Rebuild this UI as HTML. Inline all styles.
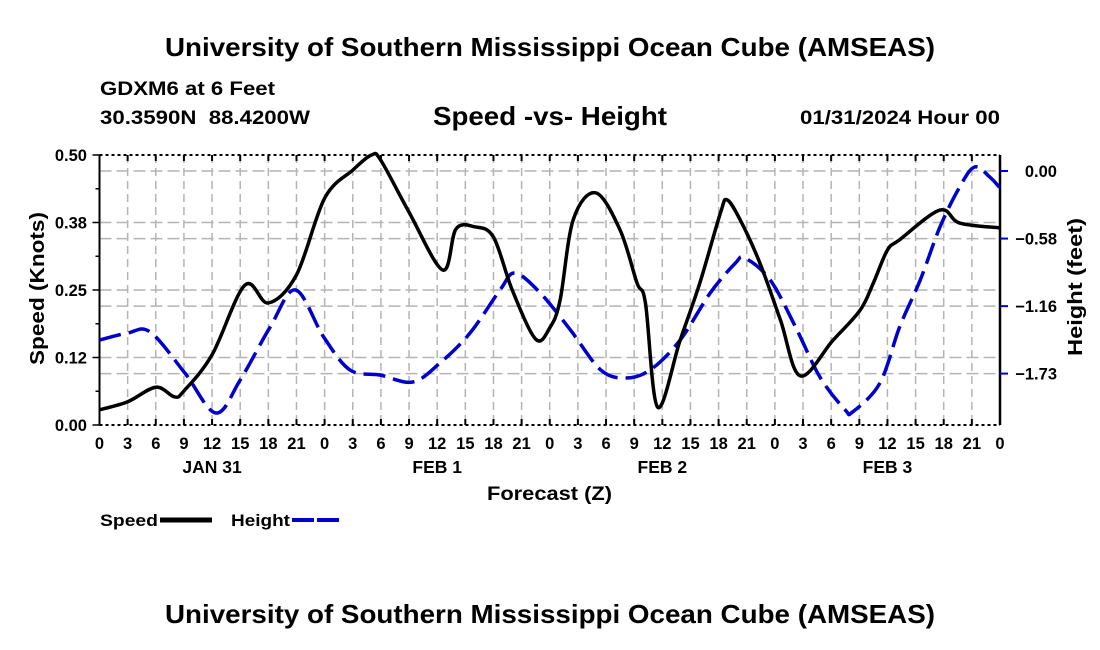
<!DOCTYPE html>
<html><head><meta charset="utf-8"><style>
html,body{margin:0;padding:0;background:#fff;}
svg{display:block;font-family:"Liberation Sans",Arial,sans-serif;font-weight:bold;}
</style></head><body>
<svg id="chart" width="1100" height="650" viewBox="0 0 1100 650">
<text x="165" y="56" font-size="26" textLength="770" lengthAdjust="spacingAndGlyphs">University of Southern Mississippi Ocean Cube (AMSEAS)</text>
<text x="100" y="95" font-size="19" textLength="175" lengthAdjust="spacingAndGlyphs">GDXM6 at 6 Feet</text>
<text x="100" y="124" font-size="19" xml:space="preserve" style="white-space:pre" textLength="210" lengthAdjust="spacingAndGlyphs">30.3590N  88.4200W</text>
<text x="433" y="125" font-size="26" textLength="234" lengthAdjust="spacingAndGlyphs">Speed -vs- Height</text>
<text x="800" y="124" font-size="19" textLength="200" lengthAdjust="spacingAndGlyphs">01/31/2024 Hour 00</text>
<g id="grid"></g>
<g id="axes"></g>
<g id="series"></g>
<text x="487" y="500" font-size="19" textLength="125" lengthAdjust="spacingAndGlyphs">Forecast (Z)</text>
<text transform="translate(44,365) rotate(-90)" font-size="20" textLength="153" lengthAdjust="spacingAndGlyphs">Speed (Knots)</text>
<text transform="translate(1082,356) rotate(-90)" font-size="20" textLength="138" lengthAdjust="spacingAndGlyphs">Height (feet)</text>
<g>
<text x="100" y="526" font-size="17" textLength="58" lengthAdjust="spacingAndGlyphs">Speed</text>
<line x1="160" y1="520" x2="212" y2="520" stroke="#000" stroke-width="5"/>
<text x="231" y="526" font-size="17" textLength="59" lengthAdjust="spacingAndGlyphs">Height</text>
<line x1="292" y1="520" x2="342" y2="520" stroke="#0000cc" stroke-width="4" stroke-dasharray="22,3"/>
</g>
<text x="165" y="623" font-size="26" textLength="770" lengthAdjust="spacingAndGlyphs">University of Southern Mississippi Ocean Cube (AMSEAS)</text>
</svg>
<script>
const xTickLabels = ["0","3","6","9","12","15","18","21","0","3","6","9","12","15","18","21","0","3","6","9","12","15","18","21","0","3","6","9","12","15","18","21","0"];
const dayLabels = ["JAN 31","FEB 1","FEB 2","FEB 3"];
const dayHours = [12,36,60,84];
const speedTicks = [0,0.125,0.25,0.375,0.5];
const speedTickLabels = ["0.00","0.12","0.25","0.38","0.50"];
const heightTicks = [0,-0.578,-1.156,-1.733];
const heightTickLabels = ["0.00","\u22120.58","\u22121.16","\u22121.73"];
const speedHours = [0,3,6,8,9,12,15.5,18,21,24,27,29,30,33,36.6,38,40,42,44,46.5,48,49.1,50.5,52.9,55.5,57.3,58.2,59.5,61.9,64,66.2,66.9,68.3,70.4,72.6,74.7,78.2,81.1,82.5,84,85.3,89.6,91.7,96];
const speedValues = [0.028,0.043,0.070,0.052,0.063,0.130,0.259,0.226,0.278,0.42,0.472,0.50,0.49,0.394,0.287,0.363,0.367,0.348,0.25,0.159,0.18,0.231,0.38,0.43,0.361,0.263,0.226,0.033,0.157,0.263,0.393,0.417,0.38,0.30,0.194,0.091,0.157,0.213,0.263,0.324,0.343,0.398,0.374,0.365];
const heightHours = [0,3,5.4,9.1,12.4,15,18.2,20.9,23.9,26.7,29.9,33.4,36.3,39.5,42.7,44.3,47,50.2,53.4,56,58.7,61.9,65.1,67.8,68.8,71.5,74.2,76.8,79.5,80.3,83.2,85.3,87.5,89.6,91.7,93.3,94.9,96];
const heightValues = [-1.446,-1.386,-1.377,-1.728,-2.07,-1.788,-1.334,-1.018,-1.42,-1.702,-1.745,-1.805,-1.642,-1.386,-1.018,-0.873,-1.044,-1.36,-1.70,-1.771,-1.702,-1.446,-1.044,-0.787,-0.744,-0.932,-1.334,-1.762,-2.044,-2.06,-1.814,-1.334,-0.932,-0.479,-0.137,0.034,-0.051,-0.145];

const PL=99.5,PR=1000,PT=155,PB=425;
const xScale=h=>PL+(PR-PL)*h/96;
const ySpeed=v=>PB-(PB-PT)*v/0.5;
const yHeight=v=>171-v*116.9;
const NS="http://www.w3.org/2000/svg";
function mk(tag,attrs,parent){const e=document.createElementNS(NS,tag);for(const k in attrs)e.setAttribute(k,attrs[k]);parent.appendChild(e);return e;}
const gridG=document.getElementById('grid'),axesG=document.getElementById('axes'),seriesG=document.getElementById('series');

for(let i=1;i<32;i++){
  const x=xScale(i*3);
  const g=mk('line',{x1:x,y1:PT,x2:x,y2:PB,stroke:'#b4b4b4','stroke-width':1.5,'stroke-dasharray':'8,5'},gridG);
  
  
}
[...speedTicks.slice(1,4).map(ySpeed),...heightTicks.map(yHeight)].forEach(y=>{
  const g=mk('line',{x1:PL,y1:y,x2:PR,y2:y,stroke:'#b4b4b4','stroke-width':1.5,'stroke-dasharray':'12,5'},gridG);
  
  
});
const topBorder=mk('line',{x1:PL,y1:PT,x2:PR,y2:PT,stroke:'#000','stroke-width':2,'stroke-dasharray':'3,3'},axesG);


const bottomBorder=mk('line',{x1:PL,y1:PB,x2:PR,y2:PB,stroke:'#000','stroke-width':2,'stroke-dasharray':'3,3'},axesG);


const leftAxis=mk('line',{x1:PL,y1:PT,x2:PL,y2:PB,stroke:'#000','stroke-width':2},axesG);


const rightAxis=mk('line',{x1:PR,y1:PT,x2:PR,y2:PB,stroke:'#000','stroke-width':2.5},axesG);


xTickLabels.forEach((lab,i)=>{
  const x=xScale(i*3);
  mk('line',{x1:x,y1:PB,x2:x,y2:PB-6,stroke:'#000','stroke-width':2},axesG);
  mk('line',{x1:x,y1:PT,x2:x,y2:PT+6,stroke:'#000','stroke-width':2},axesG);
  const t=mk('text',{x:x,y:449,'font-size':16.5,'text-anchor':'middle'},axesG);
  t.textContent=lab;
  
  
});
dayLabels.forEach((lab,i)=>{
  const t=mk('text',{x:xScale(dayHours[i]),y:473,'font-size':17.5,'text-anchor':'middle'},axesG);
  t.textContent=lab;
  
  
});
for(let i=0;i<=8;i++){const y=ySpeed(i*0.0625);mk('line',{x1:PL,y1:y,x2:PL-(i%2?4:7),y2:y,stroke:'#000','stroke-width':1.5},axesG);}
speedTicks.forEach((v,i)=>{
  const t=mk('text',{x:87,y:ySpeed(v)+6,'font-size':16.5,'text-anchor':'end'},axesG);
  t.textContent=speedTickLabels[i];
  
  
});
heightTicks.forEach((v,i)=>{
  const y=yHeight(v);
  mk('line',{x1:PR,y1:y,x2:PR+8,y2:y,stroke:'#0000cc','stroke-width':2},axesG);
  const t=mk('text',{x:1057,y:y+6,'font-size':16.5,'text-anchor':'end'},axesG);
  t.textContent=heightTickLabels[i];
  
  
});
function smooth(pts){
  let d='M'+pts[0][0]+','+pts[0][1];
  for(let i=0;i<pts.length-1;i++){
    const p0=pts[Math.max(0,i-1)],p1=pts[i],p2=pts[i+1],p3=pts[Math.min(pts.length-1,i+2)];
    const c1x=p1[0]+(p2[0]-p0[0])/6,c1y=p1[1]+(p2[1]-p0[1])/6;
    const c2x=p2[0]-(p3[0]-p1[0])/6,c2y=p2[1]-(p3[1]-p1[1])/6;
    d+=' C'+c1x+','+c1y+' '+c2x+','+c2y+' '+p2[0]+','+p2[1];
  }
  return d;
}
const hp=mk('path',{d:smooth(heightHours.map((h,i)=>[xScale(h),yHeight(heightValues[i])])),fill:'none',stroke:'#0000cc','stroke-width':3.5,'stroke-dasharray':'22,8'},seriesG);


const sp=mk('path',{d:smooth(speedHours.map((h,i)=>[xScale(h),ySpeed(speedValues[i])])),fill:'none',stroke:'#000','stroke-width':3.5,'stroke-linejoin':'round'},seriesG);


</script>
</body></html>
